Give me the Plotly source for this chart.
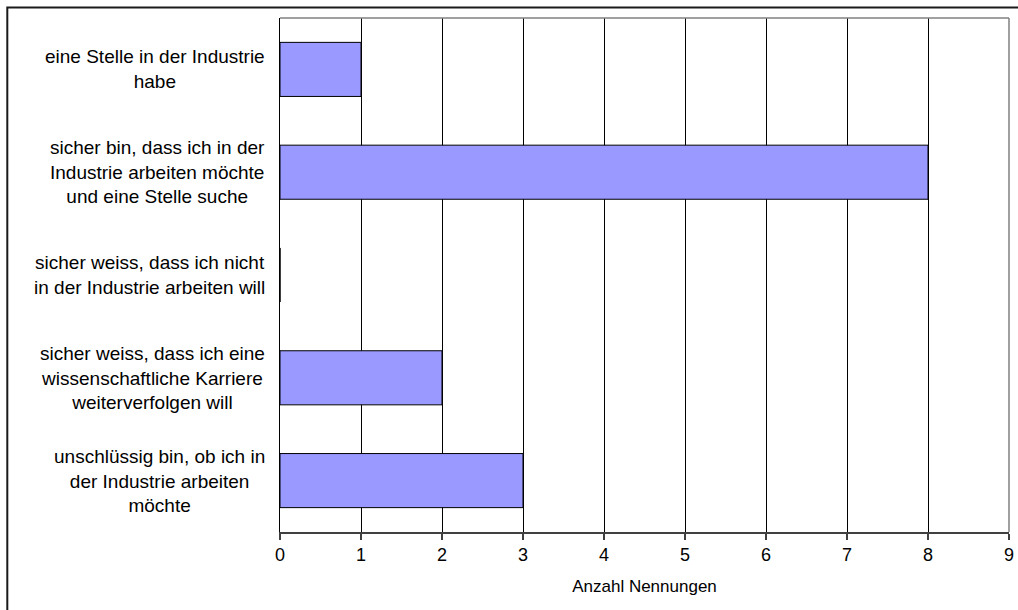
import plotly.graph_objects as go

# Survey answers (top to bottom) and number of mentions
categories = [
    "eine Stelle in der Industrie<br>habe",
    "sicher bin, dass ich in der<br>Industrie arbeiten möchte<br>und eine Stelle suche",
    "sicher weiss, dass ich nicht<br>in der Industrie arbeiten will",
    "sicher weiss, dass ich eine<br>wissenschaftliche Karriere<br>weiterverfolgen will",
    "unschlüssig bin, ob ich in<br>der Industrie arbeiten<br>möchte",
]
counts = [1, 8, 0, 2, 3]
x_ticks = list(range(0, 10))
x_title = "Anzahl Nennungen"

FONT = "Liberation Sans, Arial, sans-serif"
W, H = 1018, 610
L, R, T, B = 280, 9, 18, 78
pw, ph = W - L - R, H - T - B

fig = go.Figure()
fig.add_trace(go.Bar(
    x=counts,
    y=list(range(len(categories))),
    orientation="h",
    marker=dict(color="#9999FF", line=dict(color="#000000", width=1)),
    hoverinfo="x",
))

# Category labels, centred text block placed left of the plot area
annotations = []
for i, cat in enumerate(categories):
    annotations.append(dict(
        x=0, xref="paper", y=i, yref="y",
        xanchor="right", yanchor="middle", xshift=-13,
        text=cat, showarrow=False, align="center",
        font=dict(family=FONT, size=19, color="#000000"),
    ))

def px_x(px):
    return (px - L) / pw

def px_y(py):
    return 1 - (py - T) / ph

shapes = [
    # gray frame of the plot area (top and right)
    dict(type="line", xref="paper", yref="paper", x0=0, x1=1, y0=1, y1=1,
         line=dict(color="#808080", width=1.5), layer="above"),
    dict(type="line", xref="paper", yref="paper", x0=1, x1=1, y0=0, y1=1,
         line=dict(color="#808080", width=1.5), layer="above"),
    # outer chart border
    dict(type="rect", xref="paper", yref="paper",
         x0=px_x(7.3), x1=px_x(1040), y0=px_y(640), y1=px_y(7.5),
         line=dict(color="#1a1a1a", width=2), layer="above"),
]

fig.update_layout(
    width=W, height=H, autosize=False,
    margin=dict(l=L, r=R, t=T, b=B, pad=0, autoexpand=False),
    paper_bgcolor="white", plot_bgcolor="white",
    bargap=0.474,
    showlegend=False,
    font=dict(family=FONT, size=18, color="#000000"),
    annotations=annotations,
    shapes=shapes,
    xaxis=dict(
        range=[0, 9], tickvals=x_ticks, ticktext=[str(v) for v in x_ticks],
        showgrid=True, gridcolor="#000000", gridwidth=1,
        showline=True, linecolor="#404040", linewidth=1.5,
        ticks="outside", ticklen=6, tickcolor="#404040", tickwidth=1.5,
        tickfont=dict(family=FONT, size=18, color="#000000"),
        zeroline=False, automargin=False,
        title=dict(text=x_title, font=dict(family=FONT, size=17, color="#000000"), standoff=16),
        fixedrange=True,
    ),
    yaxis=dict(
        range=[len(categories) - 0.5, -0.5],
        showticklabels=False, ticks="",
        showgrid=False, zeroline=False, automargin=False,
        showline=True, linecolor="#000000", linewidth=1,
        fixedrange=True,
    ),
)

fig.write_html("out.html")
